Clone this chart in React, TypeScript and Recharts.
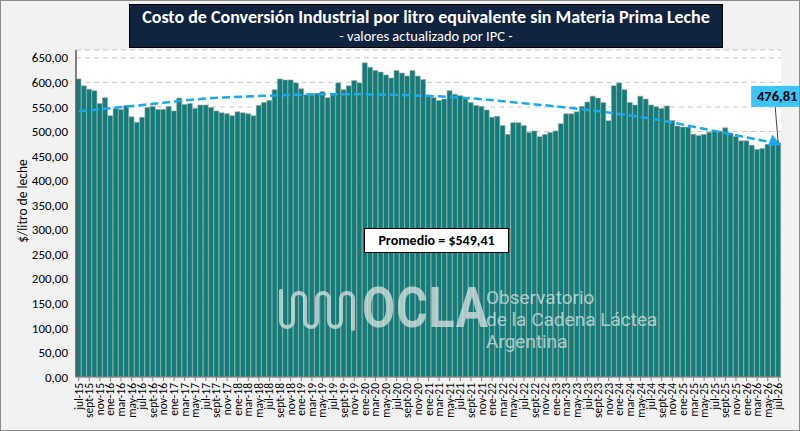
import React from "react";
import { ComposedChart, Bar, Line, XAxis, YAxis, CartesianGrid, LabelList } from "recharts";

const MONTHS = ["ene", "feb", "mar", "abr", "may", "jun", "jul", "ago", "sept", "oct", "nov", "dic"];
const FIRST_YEAR = 2015;
const FIRST_MONTH = 6; // jul

// $/litro, jul-15 .. jul-26
const COST = [
  607, 593, 586, 583, 557, 569, 532, 547, 545, 553,
  530, 519, 529, 549, 551, 545, 545, 551, 542, 568,
  555, 557, 547, 554, 554, 549, 542, 538, 536, 532,
  540, 538, 536, 532, 553, 559, 563, 585, 607, 605,
  605, 599, 587, 575, 574.5, 578, 581, 569, 574.5, 599,
  585, 593, 604, 599, 640, 631, 624, 621, 615, 609,
  624, 619, 613, 624, 613, 606, 574.5, 569, 563, 566,
  583, 576, 573, 567, 559, 553, 551, 544, 529, 531,
  512, 494, 518, 518, 512, 498, 501, 489.5, 494, 498,
  501, 516, 536, 536, 540, 551, 560, 572, 568, 559,
  522, 593, 599, 585, 559, 554, 572, 566, 554, 550.5,
  547, 552, 522.5, 511, 509, 509, 494.5, 492, 494, 498.5,
  501, 500.5, 507.5, 497, 490, 481, 481, 472, 463.5, 465.5,
  474, 473, 476.81,
];

// trend line read at each July, 2015 .. 2026
const TREND_JUL = [541, 554, 567, 573, 576, 574.5, 569, 557.5, 544, 526, 501, 475];

const AVERAGE = 549.41;
const Y_TICKS = [0, 50, 100, 150, 200, 250, 300, 350, 400, 450, 500, 550, 600, 650];

const CATEGORIES = COST.map((_, i) => {
  const m = (FIRST_MONTH + i) % 12;
  const y = FIRST_YEAR + Math.floor((FIRST_MONTH + i) / 12);
  return `${MONTHS[m]}-${String(y).slice(2)}`;
});

const data = CATEGORIES.map((month, i) => ({
  month,
  cost: COST[i],
  trend: i % 12 === 0 ? TREND_JUL[i / 12] : null,
}));

const fmt = (v: number) => v.toFixed(2).replace(".", ",");

const FONT = "Carlito, Calibri, Lato, sans-serif";
const WATERMARK = "rgba(222,226,226,0.75)";

const XTick = (props: any) => {
  const { x, y, payload } = props;
  return (
    <text
      x={x}
      y={y}
      transform={`rotate(-90 ${x} ${y})`}
      textAnchor="end"
      dy={4}
      fontSize={11.5}
      fill="#000"
      fontFamily={FONT}
    >
      {payload.value}
    </text>
  );
};

const ArrowDot = (props: any) => {
  const { cx, cy, index } = props;
  if (index !== COST.length - 1 || cx == null) return <g key={`d${index}`} />;
  const a = (22 * Math.PI) / 180;
  const dx = Math.cos(a), dy = Math.sin(a);
  const tip = [cx + 3 * dx, cy + 3 * dy];
  const bx = cx - 9 * dx, by = cy - 9 * dy;
  const p1 = [bx - 6 * dy, by + 6 * dx];
  const p2 = [bx + 6 * dy, by - 6 * dx];
  return (
    <polygon
      key={`d${index}`}
      points={`${tip[0]},${tip[1]} ${p1[0]},${p1[1]} ${p2[0]},${p2[1]}`}
      fill="#19A9EC"
    />
  );
};

const LastValueLabel = (props: any) => {
  const { x, y, width, value, index } = props;
  if (index !== COST.length - 1) return null;
  const cx = x + width / 2;
  return (
    <g>
      <line x1={cx} y1={y} x2={cx - 3} y2={y - 36} stroke="#404040" strokeWidth={1} />
      <rect x={cx - 27} y={y - 57} width={52} height={21} fill="#3CC5F6" />
      <text
        x={cx - 1}
        y={y - 41.5}
        textAnchor="middle"
        fontSize={14.5}
        fontWeight={700}
        fill="#000"
        fontFamily={FONT}
      >
        {fmt(value)}
      </text>
    </g>
  );
};

export default function App() {
  return (
    <div
      style={{
        position: "absolute",
        left: 0,
        top: 0,
        width: 800,
        height: 431,
        background: "#F2F2F2",
        border: "1px solid #8c8c8c",
        boxSizing: "border-box",
        fontFamily: FONT,
        overflow: "hidden",
      }}
    >
      <div style={{ position: "absolute", left: -1, top: -1 }}>
        <ComposedChart
          width={800}
          height={431}
          data={data}
          margin={{ top: 50, right: 19, bottom: 4, left: 0 }}
          barCategoryGap={0}
        >
          <CartesianGrid vertical={false} stroke="#C8C8C8" strokeDasharray="5 4" fill="#fff" />
          <XAxis
            dataKey="month"
            interval={1}
            tick={<XTick />}
            height={50}
            tickSize={4}
            tickLine={{ stroke: "#808080" }}
            axisLine={{ stroke: "#808080" }}
          />
          <YAxis
            domain={[0, 666]}
            ticks={Y_TICKS}
            width={76}
            tickFormatter={fmt}
            tick={{ fill: "#000", fontSize: 13, fontFamily: FONT }}
            tickLine={false}
            axisLine={{ stroke: "#595959", strokeWidth: 1.5 }}
          />
          <Bar dataKey="cost" fill="#0F7E7A" stroke="#A3A3A3" strokeWidth={0.6} isAnimationActive={false}>
            <LabelList dataKey="cost" content={LastValueLabel} />
          </Bar>
          <Line
            dataKey="trend"
            type="monotone"
            connectNulls
            stroke="#19A9EC"
            strokeWidth={2.5}
            strokeDasharray="8 4"
            dot={ArrowDot}
            activeDot={false}
            isAnimationActive={false}
          />
        </ComposedChart>
      </div>

      {/* title */}
      <div
        style={{
          position: "absolute",
          left: 128,
          top: 3,
          width: 594,
          height: 44,
          background: "#10243F",
          color: "#fff",
          textAlign: "center",
          boxSizing: "border-box",
          border: "1px solid #000",
        }}
      >
        <div style={{ fontSize: 18, fontWeight: 700, lineHeight: "22px", marginTop: 1 }}>
          Costo de Conversión Industrial por litro equivalente sin Materia Prima Leche
        </div>
        <div style={{ fontSize: 14.5, lineHeight: "16px" }}>- valores actualizado por IPC -</div>
      </div>

      {/* y axis title */}
      <div
        style={{
          position: "absolute",
          left: 21,
          top: 200,
          transform: "translate(-50%, -50%) rotate(-90deg)",
          fontSize: 13.5,
          color: "#000",
          whiteSpace: "nowrap",
        }}
      >
        $/litro de leche
      </div>

      {/* average box */}
      <div
        style={{
          position: "absolute",
          left: 363,
          top: 227,
          width: 145,
          height: 25,
          boxSizing: "border-box",
          border: "1px solid #000",
          background: "#fff",
          fontSize: 14,
          fontWeight: 700,
          lineHeight: "23px",
          textAlign: "center",
          color: "#000",
        }}
      >
        {`Promedio = $${fmt(AVERAGE)}`}
      </div>

      {/* OCLA watermark */}
      <svg
        style={{ position: "absolute", left: 276, top: 286 }}
        width={82}
        height={46}
        viewBox="0 0 82 46"
      >
        <path
          d="M4 4 V34 a6 6 0 0 0 12 0 V12 a6 6 0 0 1 12 0 V34 a6 6 0 0 0 12 0 V12 a6 6 0 0 1 12 0 V34 a6 6 0 0 0 12 0 V12 a6 6 0 0 1 12 0 V42"
          fill="none"
          stroke={WATERMARK}
          strokeWidth={4}
          strokeLinecap="round"
        />
      </svg>
      <div
        style={{
          position: "absolute",
          left: 361,
          top: 275,
          fontSize: 56,
          fontWeight: 700,
          color: WATERMARK,
          transform: "scaleX(0.86)",
          transformOrigin: "left top",
          letterSpacing: 1,
          lineHeight: "64px",
          fontFamily: "Roboto, sans-serif",
        }}
      >
        OCLA
      </div>
      <div
        style={{
          position: "absolute",
          left: 485,
          top: 286,
          fontSize: 19,
          lineHeight: "22px",
          color: WATERMARK,
          fontFamily: "Roboto, sans-serif",
        }}
      >
        <div>Observatorio</div>
        <div>de la Cadena Láctea</div>
        <div>Argentina</div>
      </div>
    </div>
  );
}
